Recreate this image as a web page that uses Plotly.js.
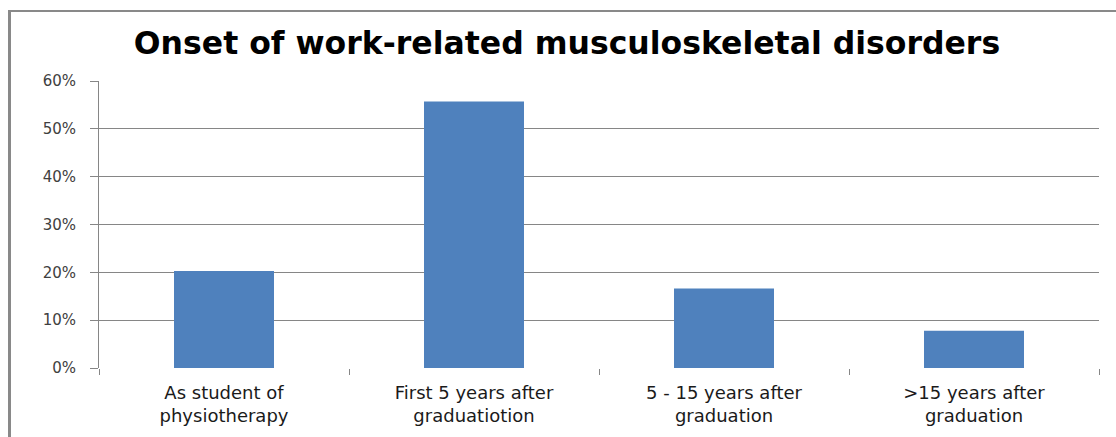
<!DOCTYPE html>
<html>
<head>
<meta charset="utf-8">
<script src="https://cdn.plot.ly/plotly-3.0.1.min.js"></script>
<style>
html,body{margin:0;padding:0;background:#fff;overflow:hidden;}
#wrap{position:relative;width:1116px;height:437px;}
#frame{position:absolute;left:8px;top:10px;width:1200px;height:500px;border-left:3px solid #898989;border-top:2px solid #898989;pointer-events:none;z-index:5;}
#chart{position:absolute;left:0;top:0;width:1116px;height:437px;}
</style>
</head>
<body>
<div id="wrap"><div id="chart"></div><div id="frame"></div></div>
<script>
const chartTitle = "Onset of work-related musculoskeletal disorders";
const categories = ["As student of<br>physiotherapy", "First 5 years after<br>graduatiotion", "5 - 15 years after<br>graduation", ">15 years after<br>graduation"];
const values = [0.203, 0.557, 0.166, 0.078];
const yTickVals = [0, 0.1, 0.2, 0.3, 0.4, 0.5, 0.6];
const yTickText = ["0%", "10%", "20%", "30%", "40%", "50%", "60%"];

const trace = {
  type: "bar",
  x: categories,
  y: values,
  marker: {color: "#4F81BD"},
  hoverinfo: "none"
};

const layout = {
  width: 1116,
  height: 437,
  margin: {l: 99, r: 17, t: 81, b: 69},
  paper_bgcolor: "#ffffff",
  plot_bgcolor: "#ffffff",
  bargap: 0.6,
  showlegend: false,
  title: {
    text: "<b>" + chartTitle + "</b>",
    font: {family: "DejaVu Sans", size: 31.5, color: "#000000"},
    x: 567 / 1116, xref: "container", xanchor: "center",
    y: 1 - 43 / 437, yref: "container", yanchor: "middle"
  },
  xaxis: {
    type: "category",
    showgrid: false,
    showline: false,
    zeroline: false,
    ticks: "outside",
    tickson: "boundaries",
    ticklen: 6,
    tickcolor: "#868686",
    tickwidth: 1,
    tickfont: {family: "DejaVu Sans", size: 18, color: "#1a1a1a"},
    ticklabelstandoff: 12
  },
  yaxis: {
    range: [0, 0.6],
    tickvals: yTickVals,
    ticktext: yTickText,
    showgrid: true,
    gridcolor: "#868686",
    gridwidth: 1,
    showline: true,
    linecolor: "#868686",
    linewidth: 1,
    zeroline: false,
    ticks: "outside",
    ticklen: 8,
    tickcolor: "#868686",
    tickfont: {family: "DejaVu Sans", size: 15, color: "#404040"},
    ticklabelstandoff: 11
  }
};

Plotly.newPlot("chart", [trace], layout, {displayModeBar: false, staticPlot: true});
</script>
</body>
</html>
